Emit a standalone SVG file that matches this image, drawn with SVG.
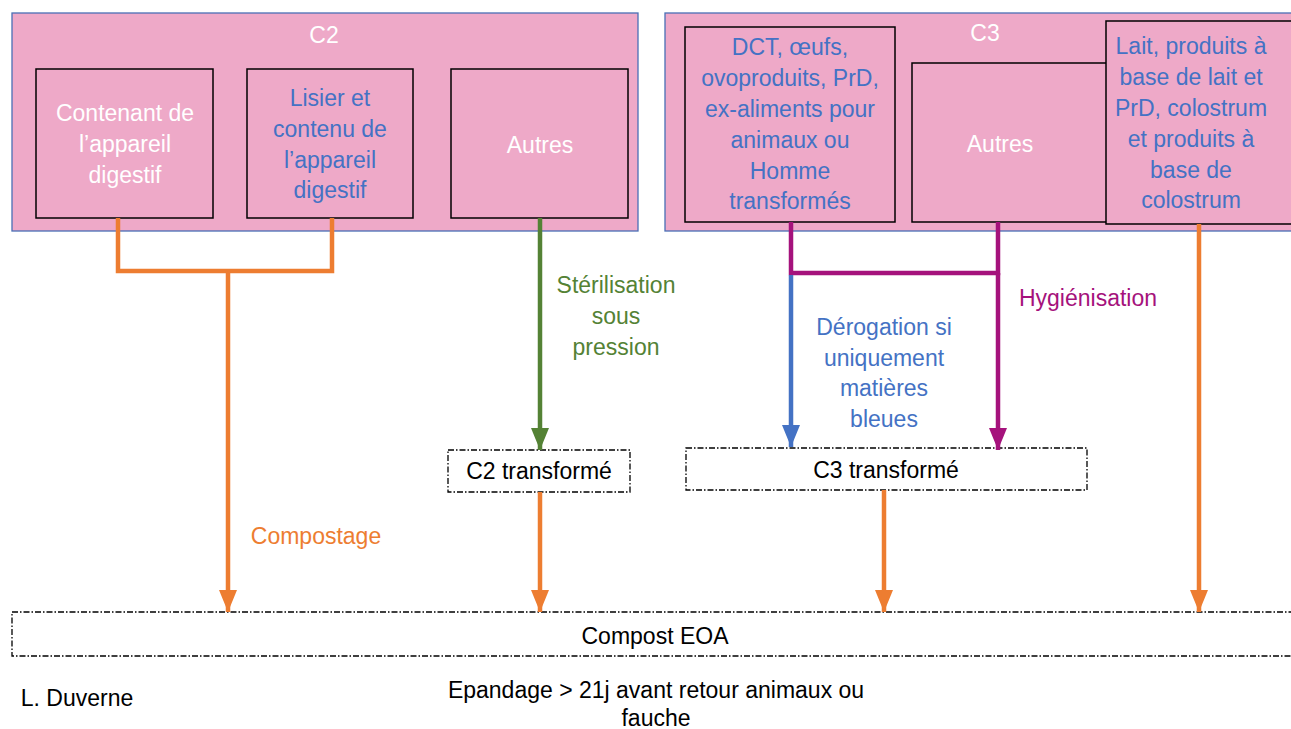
<svg xmlns="http://www.w3.org/2000/svg" width="1291" height="729" viewBox="0 0 1291 729">
<style>
text{font-family:"Liberation Sans",Arial,sans-serif;font-size:23px;text-anchor:middle}
.outer{fill:#eea9c8;stroke:#4a6fb5;stroke-width:1.3}
.inner{fill:#eea9c8;stroke:#000;stroke-width:1.5}
.dd{fill:#fff;stroke:#000;stroke-width:1.3;stroke-dasharray:6 2 1.5 2}
.w{fill:#fff}.b{fill:#4472c4}.k{fill:#000}
.g{fill:#548235}.p{fill:#a5127c}.o{fill:#ed7d31}
.lo{stroke:#ed7d31;stroke-width:4.5;fill:none}
.lg{stroke:#548235;stroke-width:4.5;fill:none}
.lp{stroke:#a5127c;stroke-width:4.5;fill:none}
.lb{stroke:#4472c4;stroke-width:4.5;fill:none}
</style>
<defs>
<marker id="ao" markerUnits="userSpaceOnUse" markerWidth="18" markerHeight="24" refX="9" refY="22" viewBox="0 0 18 24"><path d="M0,0 L18,0 L9,22 Z" fill="#ed7d31"/></marker>
<marker id="ag" markerUnits="userSpaceOnUse" markerWidth="18" markerHeight="24" refX="9" refY="22" viewBox="0 0 18 24"><path d="M0,0 L18,0 L9,22 Z" fill="#548235"/></marker>
<marker id="ap" markerUnits="userSpaceOnUse" markerWidth="18" markerHeight="24" refX="9" refY="22" viewBox="0 0 18 24"><path d="M0,0 L18,0 L9,22 Z" fill="#a5127c"/></marker>
<marker id="ab" markerUnits="userSpaceOnUse" markerWidth="18" markerHeight="24" refX="9" refY="22" viewBox="0 0 18 24"><path d="M0,0 L18,0 L9,22 Z" fill="#4472c4"/></marker>
</defs>

<g id="C2">
<rect class="outer" x="12" y="13" width="626" height="218"/>
<text class="w" x="324" y="43">C2</text>
</g>
<g id="C3">
<rect class="outer" x="665" y="13" width="630" height="218"/>
<text class="w" x="985" y="41">C3</text>
</g>
<g id="c2-contenant">
<rect class="inner" x="36" y="69" width="177" height="149"/>
<text class="w" x="125" y="121">Contenant de</text>
<text class="w" x="125" y="152">l’appareil</text>
<text class="w" x="125" y="183">digestif</text>
</g>
<g id="c2-lisier">
<rect class="inner" x="247" y="69" width="166" height="149"/>
<text class="b" x="330" y="106">Lisier et</text>
<text class="b" x="330" y="137">contenu de</text>
<text class="b" x="330" y="168">l’appareil</text>
<text class="b" x="330" y="198">digestif</text>
</g>
<g id="c2-autres">
<rect class="inner" x="451" y="69" width="177" height="149"/>
<text class="w" x="540" y="153">Autres</text>
</g>
<g id="c3-dct">
<rect class="inner" x="685" y="27" width="210" height="195"/>
<text class="b" x="790" y="55">DCT, œufs,</text>
<text class="b" x="790" y="86">ovoproduits, PrD,</text>
<text class="b" x="790" y="117">ex-aliments pour</text>
<text class="b" x="790" y="148">animaux ou</text>
<text class="b" x="790" y="179">Homme</text>
<text class="b" x="790" y="209">transformés</text>
</g>
<g id="c3-autres">
<rect class="inner" x="912" y="63" width="201" height="159"/>
<text class="w" x="1000" y="152">Autres</text>
</g>
<g id="c3-lait">
<rect class="inner" x="1106" y="21" width="190" height="203"/>
<text class="b" x="1191" y="54">Lait, produits à</text>
<text class="b" x="1191" y="85">base de lait et</text>
<text class="b" x="1191" y="116">PrD, colostrum</text>
<text class="b" x="1191" y="147">et produits à</text>
<text class="b" x="1191" y="178">base de</text>
<text class="b" x="1191" y="208">colostrum</text>
</g>
<g id="c2-transforme">
<rect class="dd" x="448" y="450" width="182" height="42"/>
<text class="k" x="539" y="479">C2 transformé</text>
</g>
<g id="c3-transforme">
<rect class="dd" x="686" y="448" width="401" height="42"/>
<text class="k" x="886" y="478">C3 transformé</text>
</g>
<g id="compost">
<rect class="dd" x="12" y="612" width="1290" height="44"/>
<text class="k" x="655" y="644">Compost EOA</text>
</g>

<g id="connectors">
<path class="lo" d="M118,218 V271 H332 V218"/>
<path class="lo" d="M228,271 V612" marker-end="url(#ao)"/>
<path class="lg" d="M540,218 V450" marker-end="url(#ag)"/>
<path class="lp" d="M791,222 V273 H998 V222"/>
<path class="lp" d="M998,273 V450" marker-end="url(#ap)"/>
<path class="lb" d="M791,275 V447" marker-end="url(#ab)"/>
<path class="lo" d="M1199,224 V612" marker-end="url(#ao)"/>
<path class="lo" d="M540,492 V612" marker-end="url(#ao)"/>
<path class="lo" d="M884,490 V612" marker-end="url(#ao)"/>
</g>

<g id="labels">
<text class="o" x="316" y="544">Compostage</text>
<text class="g" x="616" y="293">Stérilisation</text>
<text class="g" x="616" y="324">sous</text>
<text class="g" x="616" y="355">pression</text>
<text class="p" x="1088" y="306">Hygiénisation</text>
<text class="b" x="884" y="335">Dérogation si</text>
<text class="b" x="884" y="366">uniquement</text>
<text class="b" x="884" y="396">matières</text>
<text class="b" x="884" y="427">bleues</text>
<text class="k" x="77" y="706">L. Duverne</text>
<text class="k" x="656" y="698">Epandage &gt; 21j avant retour animaux ou</text>
<text class="k" x="656" y="726">fauche</text>
</g>
</svg>
